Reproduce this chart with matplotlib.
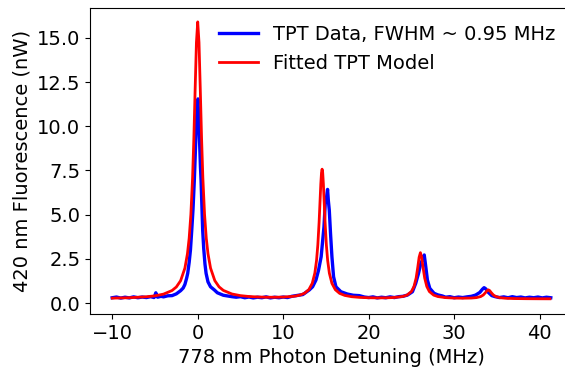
import matplotlib
matplotlib.use("Agg")
import matplotlib.pyplot as plt

data_x = [-10.0, -9.5, -9.0, -8.5, -8.0, -7.5, -7.0, -6.5, -6.0, -5.5, -5.1, -4.9, -4.7,
          -4.3, -4.0, -3.5, -3.0, -2.5, -2.0, -1.7, -1.5, -1.3, -1.17, -1.0, -0.85, -0.7,
          -0.55, -0.4, -0.25, -0.12, -0.03, 0.03, 0.08, 0.14, 0.22, 0.32, 0.39, 0.5, 0.58,
          0.7, 0.85, 0.98, 1.2, 1.5, 1.95, 2.3, 2.7, 3.0, 3.5, 4.0, 4.5, 5.0, 5.5, 6.0,
          6.5, 7.0, 7.5, 8.0, 8.5, 9.0, 9.5, 10.0, 10.5, 11.0, 11.5, 12.3, 13.05, 13.44,
          13.83, 14.14, 14.44, 14.63, 14.77, 14.92, 15.05, 15.19, 15.28, 15.39, 15.54,
          15.70, 15.89, 16.17, 16.75, 17.5, 18.2, 18.9, 19.5, 20.0, 20.5, 21.0, 21.5,
          22.0, 22.5, 23.0, 23.5, 24.0, 24.53, 25.12, 25.5, 25.83, 26.1, 26.35, 26.5,
          26.6, 26.68, 26.87, 27.15, 27.65, 28.1, 28.62, 29.0, 29.5, 30.0, 30.5, 31.0,
          31.5, 32.0, 32.5, 33.0, 33.3, 33.5, 33.7, 34.0, 34.4, 34.8, 35.3, 35.8, 36.3,
          36.8, 37.3, 37.8, 38.3, 38.8, 39.3, 39.8, 40.3, 40.8, 41.3]
data_y = [0.30, 0.34, 0.28, 0.33, 0.29, 0.35, 0.30, 0.34, 0.31, 0.36, 0.31, 0.58, 0.33,
          0.38, 0.35, 0.41, 0.42, 0.52, 0.70, 0.85, 1.05, 1.40, 1.68, 2.30, 3.0, 4.1,
          5.3, 6.9, 8.9, 10.6, 11.3, 11.55, 10.9, 10.4, 9.1, 7.7, 6.96, 5.3, 4.13,
          3.1, 2.2, 1.68, 1.2, 0.92, 0.74, 0.58, 0.50, 0.44, 0.40, 0.36, 0.33, 0.36, 0.30, 0.34,
          0.29, 0.33, 0.30, 0.35, 0.29, 0.33, 0.30, 0.34, 0.31, 0.38, 0.42, 0.48, 0.74, 0.92,
          1.30, 1.87, 2.62, 3.57, 4.32, 5.64, 5.9, 6.43, 5.8, 5.26, 3.90,
          2.62, 1.49, 0.92, 0.64, 0.51, 0.44, 0.42, 0.34, 0.31, 0.35, 0.29, 0.33,
          0.30, 0.35, 0.31, 0.36, 0.38, 0.45, 0.64, 1.11, 1.68, 2.25, 2.5, 2.72,
          2.35, 2.05, 1.30, 0.83, 0.55, 0.46, 0.40, 0.33, 0.36, 0.30, 0.34, 0.31,
          0.35, 0.38, 0.45, 0.60, 0.78, 0.87, 0.80, 0.60, 0.42, 0.36, 0.31, 0.35, 0.30,
          0.36, 0.31, 0.34, 0.29, 0.33, 0.30, 0.34, 0.29, 0.33, 0.30]

# Fitted TPT model curve
model_x = [-10, -8, -6, -5, -4, -3, -2.5, -2, -1.5, -1.2, -1.0, -0.8, -0.6, -0.45, -0.3,
           -0.15, 0, 0.15, 0.3, 0.45, 0.6, 0.8, 1.0, 1.2, 1.5, 2, 2.5, 3, 4, 5, 6, 7, 8,
           9, 10, 11, 11.5, 12, 12.5, 13, 13.4, 13.7, 13.9, 14.05, 14.2, 14.3, 14.4,
           14.48, 14.55, 14.62, 14.7, 14.8, 14.9, 15.05, 15.2, 15.4, 15.7, 16.1, 16.6,
           17.2, 18, 19, 20, 21, 22, 23, 24, 24.5, 25, 25.3, 25.55, 25.75, 25.9, 26.05,
           26.2, 26.35, 26.55, 26.8, 27.1, 27.6, 28.1, 29, 30, 31, 32, 32.6, 33.1, 33.4,
           33.65, 33.85, 34.0, 34.15, 34.35, 34.6, 34.9, 35.4, 36, 37, 38.5, 40, 41.2]
model_y = [0.277, 0.301, 0.355, 0.408, 0.505, 0.709, 0.909, 1.263, 1.974, 2.793, 3.671,
           5.015, 7.102, 9.341, 12.103, 14.744, 15.907, 14.745, 12.104, 9.343, 7.104,
           5.017, 3.674, 2.796, 1.978, 1.267, 0.914, 0.715, 0.513, 0.419, 0.370, 0.344,
           0.330, 0.328, 0.338, 0.370, 0.402, 0.457, 0.556, 0.760, 1.119, 1.693, 2.412,
           3.284, 4.574, 5.659, 6.746, 7.375, 7.574, 7.376, 6.746, 5.659, 4.574, 3.282,
           2.410, 1.689, 1.114, 0.753, 0.547, 0.431, 0.359, 0.318, 0.299, 0.292, 0.295,
           0.313, 0.373, 0.454, 0.654, 0.938, 1.414, 2.05, 2.59, 2.85, 2.59, 2.05, 1.414,
           0.935, 0.650, 0.449, 0.366, 0.306, 0.281, 0.274, 0.283, 0.307, 0.366, 0.453,
           0.583, 0.706, 0.746, 0.704, 0.581, 0.449, 0.362, 0.299, 0.271, 0.254, 0.245,
           0.241, 0.239]

data_label = "TPT Data, FWHM ~ 0.95 MHz"
model_label = "Fitted TPT Model"
x_label = "778 nm Photon Detuning (MHz)"
y_label = "420 nm Fluorescence (nW)"

fig = plt.figure(figsize=(5.65, 3.68), dpi=100)
ax = fig.add_axes([90 / 565, (368 - 314) / 368, (573 - 90) / 565, (314 - 7.5) / 368])

ax.plot(data_x, data_y, color="#0000ff", lw=2.4, label=data_label)
ax.plot(model_x, model_y, color="#ff0000", lw=2.0, label=model_label)

ax.set_xlim(-12.6, 43.9)
ax.set_ylim(-0.62, 16.72)
ax.set_yticks([0, 2.5, 5, 7.5, 10, 12.5, 15])
ax.set_xticks([-10, 0, 10, 20, 30, 40])
ax.tick_params(labelsize=14)
ax.set_xlabel(x_label, fontsize=14)
ax.set_ylabel(y_label, fontsize=14)
ax.legend(loc="upper right", fontsize=14, frameon=False)

fig.savefig("out.png", dpi=100)
